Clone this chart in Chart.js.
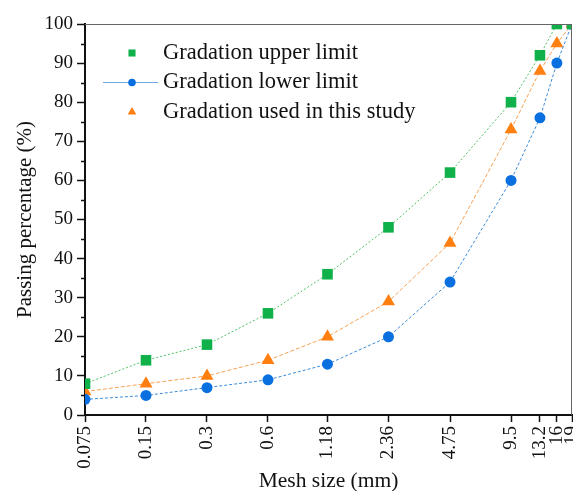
<!DOCTYPE html>
<html>
<head>
<meta charset="utf-8">
<script src="https://cdn.jsdelivr.net/npm/chart.js@4.4.0/dist/chart.umd.min.js"></script>
<style>
html, body { margin: 0; padding: 0; background: #fff; }
</style>
</head>
<body>
<canvas id="gradation" width="573" height="491"></canvas>
<script>
// sieve sizes (mm) and passing percentages
const sieveSizes = [0.075, 0.15, 0.3, 0.6, 1.18, 2.36, 4.75, 9.5, 13.2, 16, 19];
const sieveLabels = ['0.075', '0.15', '0.3', '0.6', '1.18', '2.36', '4.75', '9.5', '13.2', '16', '19'];
const upperLimit = [8, 14, 18, 26, 36, 48, 62, 80, 92, 100, 100];
const lowerLimit = [4, 5, 7, 9, 13, 20, 34, 60, 76, 90, 100];
const usedGradation = [6, 8, 10, 14, 20, 29, 44, 73, 88, 95, 100];
const seriesNames = ['Gradation upper limit', 'Gradation lower limit', 'Gradation used in this study'];

const FONT = '"Liberation Serif", "Times New Roman", serif';
const INK = '#111';

function toPoints(values) {
    return sieveSizes.map((s, i) => ({ x: s, y: values[i] }));
}

// frame on top/right, minor y ticks and the in-plot legend
const extras = {
    id: 'extras',
    afterDraw(chart) {
        const ctx = chart.ctx;
        const a = chart.chartArea;
        const y = chart.scales.y;
        ctx.save();
        ctx.strokeStyle = '#666';
        ctx.lineWidth = 1;
        ctx.beginPath();
        ctx.moveTo(a.left, a.top + 0.5);
        ctx.lineTo(a.right - 0.5, a.top + 0.5);
        ctx.lineTo(a.right - 0.5, a.bottom);
        ctx.stroke();

        ctx.strokeStyle = INK;
        ctx.lineWidth = 1.5;
        for (let v = 5; v < 100; v += 10) {
            const py = Math.round(y.getPixelForValue(v)) + 0.5;
            ctx.beginPath();
            ctx.moveTo(a.left - 4, py);
            ctx.lineTo(a.left, py);
            ctx.stroke();
        }

        // legend
        const lx = 132, ly = 53, gap = 29.5;
        const sizes = [5, 3.8, 5];
        chart.data.datasets.forEach((ds, i) => {
            const cy = ly + i * gap;
            if (i === 1) {
                ctx.strokeStyle = '#6fa8e0';
                ctx.lineWidth = 1.2;
                ctx.setLineDash([]);
                ctx.beginPath();
                ctx.moveTo(lx - 29, cy);
                ctx.lineTo(lx + 26, cy);
                ctx.stroke();
            }
            ctx.fillStyle = ds.pointBackgroundColor;
            ctx.strokeStyle = ds.pointBorderColor;
            Chart.helpers.drawPoint(ctx, {
                pointStyle: ds.pointStyle,
                radius: sizes[i],
                rotation: 0,
                borderWidth: 0
            }, lx, cy);
            ctx.fillStyle = INK;
            ctx.font = '22.5px ' + FONT;
            ctx.textBaseline = 'middle';
            ctx.textAlign = 'left';
            ctx.fillText(ds.label, 163, cy);
        });
        ctx.restore();
    }
};

new Chart(document.getElementById('gradation'), {
    type: 'line',
    data: {
        datasets: [{
            label: seriesNames[0],
            data: toPoints(upperLimit),
            borderColor: '#4fc064',
            borderWidth: 1,
            borderDash: [2, 2],
            pointStyle: 'rect',
            pointRadius: 7.5,
            pointBackgroundColor: '#10b04a',
            pointBorderColor: '#10b04a',
            pointBorderWidth: 0,
            clip: 0
        }, {
            label: seriesNames[1],
            data: toPoints(lowerLimit),
            borderColor: '#3d8bd8',
            borderWidth: 1,
            borderDash: [3, 2],
            pointStyle: 'circle',
            pointRadius: 5.5,
            pointBackgroundColor: '#0a6fdf',
            pointBorderColor: '#0a6fdf',
            pointBorderWidth: 0,
            clip: 0
        }, {
            label: seriesNames[2],
            data: toPoints(usedGradation),
            borderColor: '#f6a255',
            borderWidth: 1,
            borderDash: [4, 2],
            pointStyle: 'triangle',
            pointRadius: 7.5,
            pointBackgroundColor: '#ff7f10',
            pointBorderColor: '#ff7f10',
            pointBorderWidth: 0,
            clip: 0
        }]
    },
    options: {
        responsive: false,
        animation: false,
        layout: { autoPadding: false, padding: { top: 24, right: 1, left: 0, bottom: 0 } },
        plugins: {
            legend: { display: false },
            tooltip: { enabled: false }
        },
        scales: {
            x: {
                type: 'logarithmic',
                min: 0.075,
                max: 19,
                afterBuildTicks(scale) {
                    scale.ticks = sieveSizes.map(v => ({ value: v }));
                },
                afterFit(scale) {
                    scale.height = 76;
                    scale.paddingLeft = 0;
                    scale.paddingRight = 0;
                },
                ticks: {
                    callback: v => sieveLabels[sieveSizes.indexOf(v)],
                    autoSkip: false,
                    minRotation: 90,
                    maxRotation: 90,
                    padding: 4,
                    color: INK,
                    font: { family: FONT, size: 19 }
                },
                grid: { drawOnChartArea: false, tickLength: 7, tickColor: INK, tickWidth: 1.5 },
                border: { color: INK, width: 2 },
                title: {
                    display: true,
                    text: 'Mesh size (mm)',
                    color: INK,
                    font: { family: FONT, size: 21.5 },
                    padding: { top: 0, bottom: -3 }
                }
            },
            y: {
                min: 0,
                max: 100,
                afterFit(scale) {
                    scale.width = 85;
                    scale.paddingTop = 0;
                    scale.paddingBottom = 0;
                },
                ticks: {
                    stepSize: 10,
                    padding: 4,
                    color: INK,
                    font: { family: FONT, size: 19 }
                },
                grid: { drawOnChartArea: false, tickLength: 8, tickColor: INK, tickWidth: 1.5 },
                border: { color: INK, width: 2 },
                title: {
                    display: true,
                    text: 'Passing percentage (%)',
                    color: INK,
                    font: { family: FONT, size: 21 },
                    padding: { top: 13, bottom: 0 }
                }
            }
        }
    },
    plugins: [extras]
});
</script>
</body>
</html>
